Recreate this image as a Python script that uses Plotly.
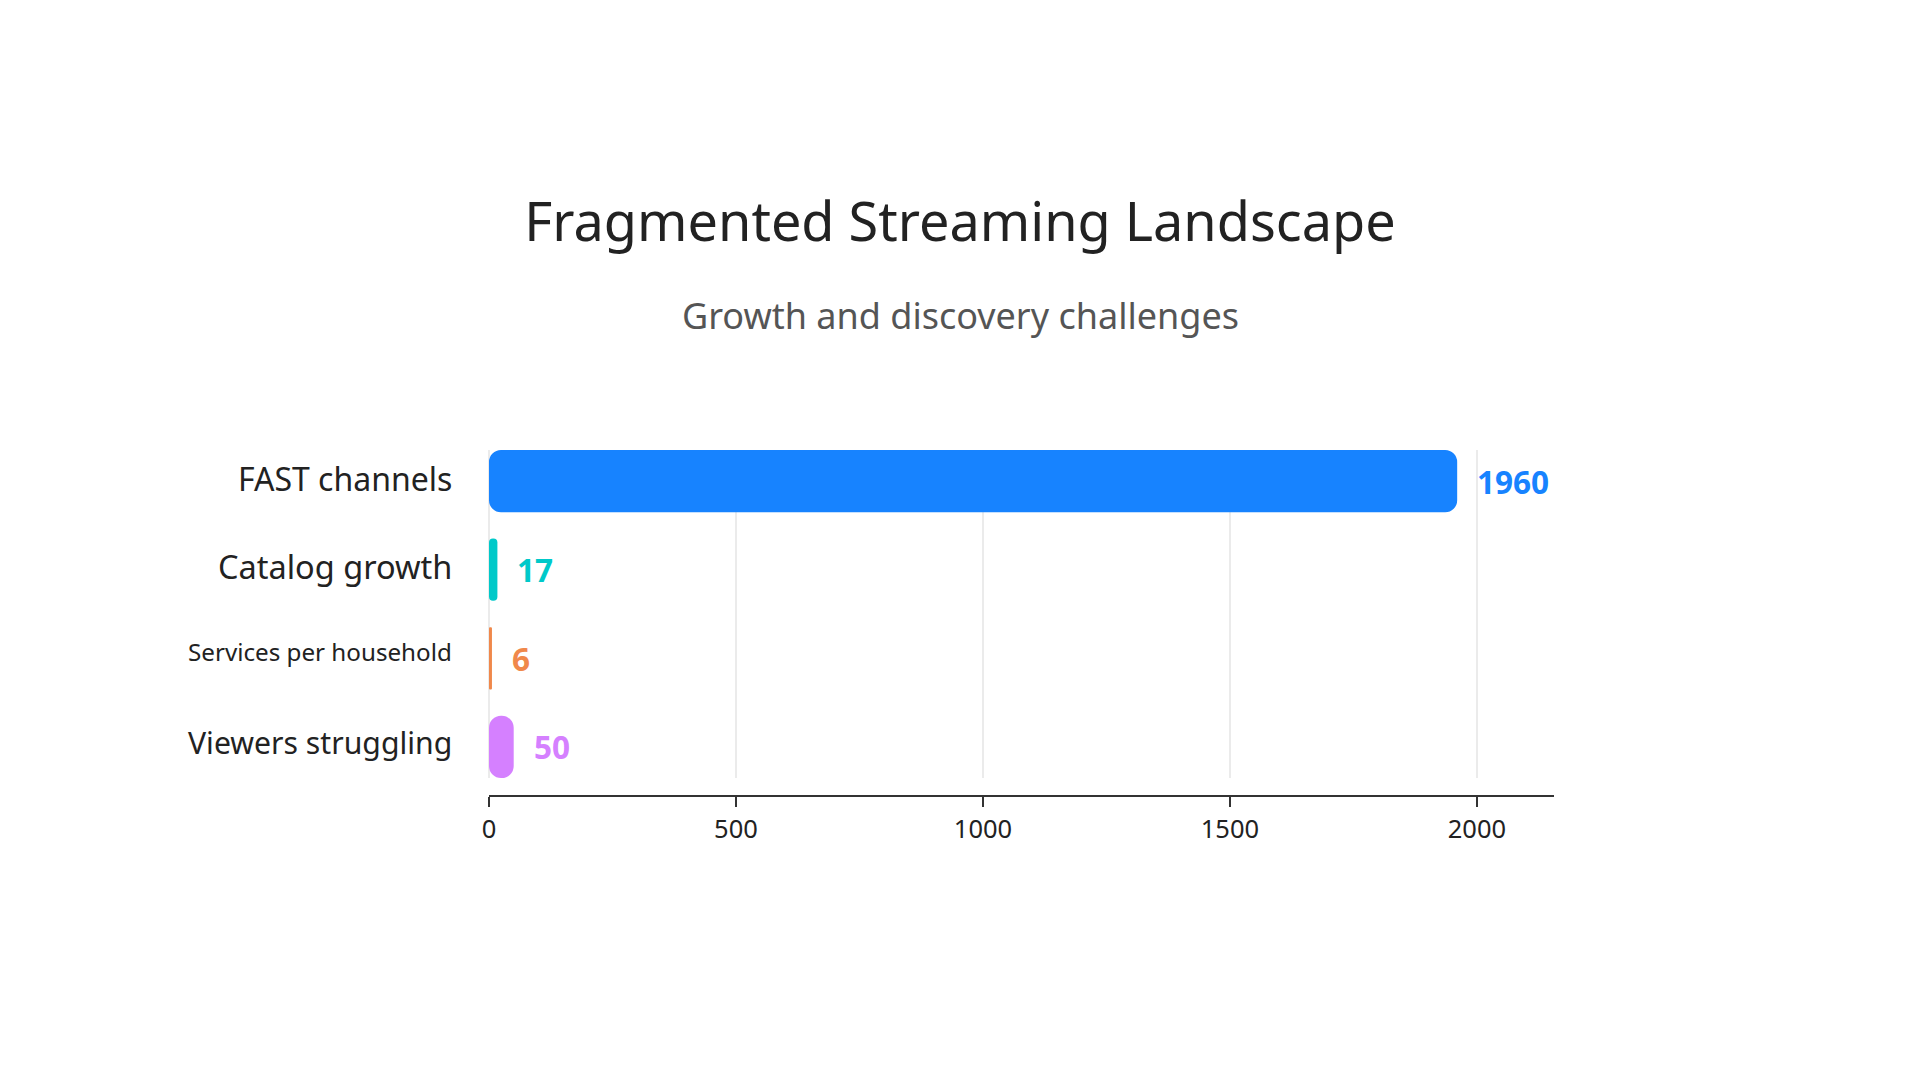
import plotly.graph_objects as go

# ---- data ----
categories = ["FAST channels", "Catalog growth", "Services per household", "Viewers struggling"]
values = [1960, 17, 6, 50]
colors = ["#1783FF", "#00C9C9", "#F0884B", "#D580FF"]
label_sizes = [32, 32.5, 24.2, 30.2]
label_yshift = [3, 3, 7, 4]
x_tickvals = [0, 500, 1000, 1500, 2000]

title_text = "Fragmented Streaming Landscape"
subtitle_text = "Growth and discovery challenges"

FONT = "Noto Sans"
W = 1920
H = 1080
bar_w = 0.702
max_radius = 12
x_max = max(values) * 1.1

plot_l, plot_r = 489, 366
plot_t, plot_b = 450, 284
plot_w = W - plot_l - plot_r
plot_h = H - plot_t - plot_b
px_per_unit = plot_w / x_max

fig = go.Figure()

# one bar trace per category; explicit base -> all four corners rounded
for cat, v, c in zip(categories, values, colors):
    r = min(max_radius, v * px_per_unit / 2)
    fig.add_trace(go.Bar(
        y=[cat], x=[v], base=[0], orientation="h",
        width=bar_w, marker=dict(color=c, cornerradius=r, line=dict(width=0)),
        hoverinfo="skip", showlegend=False,
    ))

annotations = []
# value labels
for cat, v, c in zip(categories, values, colors):
    annotations.append(dict(
        x=v, y=cat, xref="x", yref="y", text=str(v), showarrow=False,
        xanchor="left", yanchor="middle", xshift=18,
        font=dict(family=FONT, size=31.5, color=c, weight="bold"),
    ))
# category labels
for cat, s, dy in zip(categories, label_sizes, label_yshift):
    annotations.append(dict(
        x=0, y=cat, xref="paper", yref="y", text=cat, showarrow=False,
        xanchor="right", yanchor="middle", xshift=-35, yshift=dy,
        font=dict(family=FONT, size=s, color="#222222"),
    ))
# subtitle
annotations.append(dict(
    text=subtitle_text, xref="paper", yref="paper",
    x=(W / 2 - plot_l) / plot_w, y=(H - plot_b - 315) / plot_h,
    xanchor="center", yanchor="middle", showarrow=False,
    font=dict(family=FONT, size=36, color="#555555"),
))

fig.update_layout(
    width=W, height=H,
    paper_bgcolor="white", plot_bgcolor="white",
    barmode="overlay",
    margin=dict(l=plot_l, r=plot_r, t=plot_t, b=plot_b, autoexpand=False),
    title=dict(
        text=title_text, x=0.5, xref="container", xanchor="center",
        y=1 - 222 / H, yref="container", yanchor="middle",
        font=dict(family=FONT, size=54, color="#222222"),
    ),
    annotations=annotations,
    xaxis=dict(
        range=[0, x_max], anchor="free", position=0,
        tickvals=x_tickvals, ticktext=[str(t) for t in x_tickvals],
        showgrid=True, gridcolor="#EBEBEB", gridwidth=2,
        zeroline=True, zerolinecolor="#EBEBEB", zerolinewidth=2,
        showline=True, linecolor="#333333", linewidth=2,
        ticks="outside", ticklen=10, tickwidth=2, tickcolor="#333333",
        tickfont=dict(family=FONT, size=25.5, color="#222222"),
        fixedrange=True,
    ),
    yaxis=dict(
        type="category", categoryorder="array", categoryarray=categories,
        range=[3 + bar_w / 2, -bar_w / 2],
        domain=[18 / plot_h, 1],
        showticklabels=False,
        showgrid=False, zeroline=False, showline=False, ticks="",
        fixedrange=True,
    ),
    font=dict(family=FONT),
)

fig.write_html("out.html")
